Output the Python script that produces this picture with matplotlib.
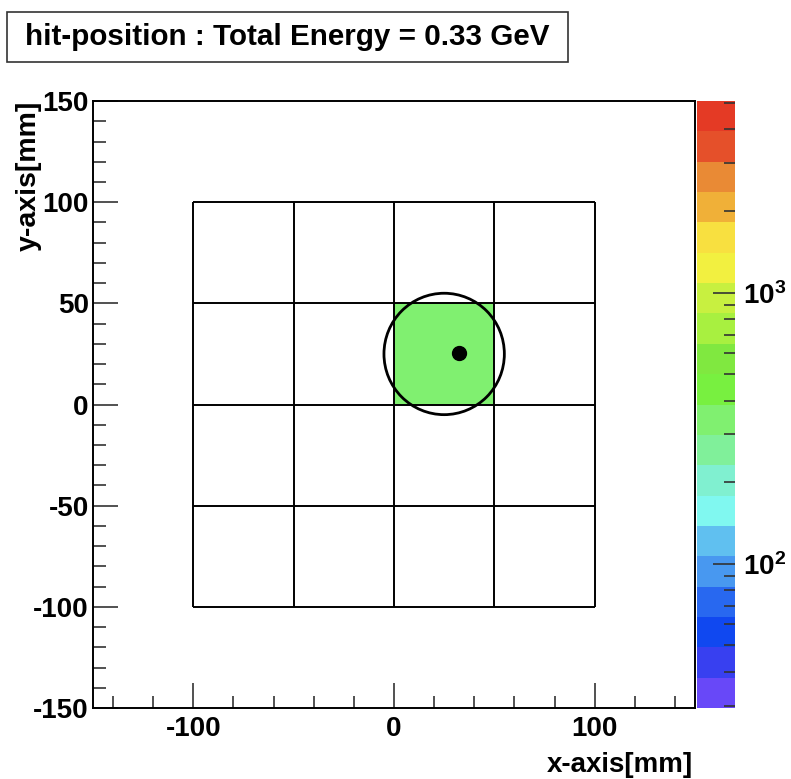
import numpy as np
import matplotlib
matplotlib.use('Agg')
import matplotlib.pyplot as plt
from matplotlib.colors import ListedColormap, LogNorm
from matplotlib.patches import Circle, Rectangle
from matplotlib.ticker import MultipleLocator, LogLocator, NullFormatter

plt.rcParams['font.family'] = ['Liberation Sans', 'DejaVu Sans']
plt.rcParams['font.weight'] = 'bold'
plt.rcParams['axes.unicode_minus'] = False

# Data
cell_edges = [-100, -50, 0, 50, 100]
# energy deposit per cell (rows: y from -100 up, cols: x from -100 right), 0 = empty
cell_energy = [
    [0, 0, 0, 0],
    [0, 0, 0, 0],
    [0, 0, 330, 0],
    [0, 0, 0, 0],
]
circle_center = (25, 25)
circle_radius = 30
hit_position = (32.5, 25.5)
z_min, z_max = 29.4, 5090
total_energy = 0.33

# ROOT-like palette, bottom to top
palette = ['#6848F8', '#3840F0', '#1048F0', '#2868F0', '#4898F0',
           '#60C0F0', '#80F8F0', '#80F0D0', '#80F09A', '#80F070',
           '#78F040', '#80E840', '#A8F040', '#C8F040', '#F2F040',
           '#F8E040', '#F0B038', '#E98A35', '#E5502A', '#E43A25']

cmap = ListedColormap(palette)
norm = LogNorm(vmin=z_min, vmax=z_max)

fig = plt.figure(figsize=(7.91, 7.79), dpi=100)
ax = fig.add_axes([0.1176, 0.0911, 0.761, 0.7792])
cax = fig.add_axes([0.8812, 0.0911, 0.048, 0.7792])

z = np.ma.masked_equal(np.array(cell_energy, dtype=float), 0)
mesh = ax.pcolormesh(cell_edges, cell_edges, z, cmap=cmap, norm=norm)

# cell borders
ax.vlines(cell_edges, cell_edges[0], cell_edges[-1], colors='black', lw=1.4)
ax.hlines(cell_edges, cell_edges[0], cell_edges[-1], colors='black', lw=1.4)

ax.add_patch(Circle(circle_center, circle_radius, fill=False, ec='black', lw=2))
ax.plot(*hit_position, 'o', color='black', ms=10)

ax.set_xlim(-150, 150)
ax.set_ylim(-150, 150)
ax.xaxis.set_major_locator(MultipleLocator(100))
ax.xaxis.set_minor_locator(MultipleLocator(20))
ax.yaxis.set_major_locator(MultipleLocator(50))
ax.yaxis.set_minor_locator(MultipleLocator(10))
ax.tick_params(which='both', direction='in', top=False, right=False,
               labelsize=20, width=1.2, color='#333333')
ax.tick_params(which='major', length=18)
ax.tick_params(which='minor', length=9)
ax.tick_params(axis='y', pad=3)
ax.tick_params(axis='x', pad=6)
for s in ax.spines.values():
    s.set_linewidth(1.4)

fig.text(0.876, 0.001, 'x-axis[mm]', ha='right', va='bottom', fontsize=20,
         fontweight='bold')
fig.text(0.036, 0.8703, 'y-axis[mm]', ha='center', va='top', rotation=90,
         fontsize=20.5, fontweight='bold')

cb = fig.colorbar(mesh, cax=cax)
cb.outline.set_visible(False)
cax.yaxis.set_major_locator(LogLocator(base=10))
cax.yaxis.set_minor_locator(LogLocator(base=10, subs=np.arange(2, 10)))
cax.yaxis.set_minor_formatter(NullFormatter())
cax.tick_params(which='both', direction='in', right=True, left=False,
                labelsize=20, width=1.2, pad=6, color='#333333')
cax.tick_params(which='major', length=16)
cax.tick_params(which='minor', length=8)

# title box (ROOT pave)
W, H = 791, 779
fig.patches.append(Rectangle((7 / W, 1 - 62 / H), 561 / W, 50 / H,
                             transform=fig.transFigure, fc='white',
                             ec='#333333', lw=1.2))
fig.text(287.5 / W, 1 - 37 / H,
         f'hit-position : Total Energy = {total_energy:.2f} GeV',
         ha='center', va='center', fontsize=21.3, fontweight='bold')

fig.savefig('out.png', dpi=100)
